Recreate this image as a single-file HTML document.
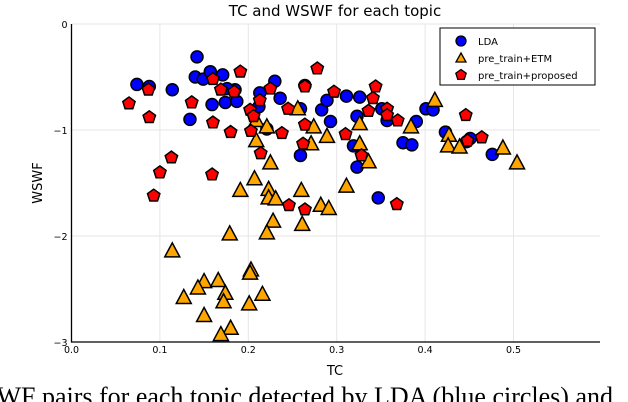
<!DOCTYPE html>
<html><head><meta charset="utf-8"><style>
body{margin:0;background:#fff;width:628px;height:402px;overflow:hidden}
svg{display:block;font-family:"DejaVu Sans","Liberation Sans",sans-serif}
</style></head><body>
<svg id="chart" width="628" height="402">
<text x="335" y="16" font-size="15" text-anchor="middle">TC and WSWF for each topic</text>
<text x="335" y="375" font-size="13" text-anchor="middle">TC</text>
<text transform="translate(42,183) rotate(-90)" font-size="13" text-anchor="middle">WSWF</text>
<text x="-18" y="405" font-size="26" font-family="Liberation Serif,serif">SWF pairs for each topic detected by LDA (blue circles) and</text>
<g id="grid"></g><g id="marks"></g><g id="axes"></g>
<g>
<rect x="440" y="28" width="155" height="57" fill="#fff" stroke="#000" stroke-width="1"/>
<circle cx="461" cy="41" r="5" fill="#0000ff" stroke="#000" stroke-width="1.3"/>
<text x="478" y="45" font-size="10">LDA</text>
<polygon points="461,53 466,62 456,62" fill="#ffa500" stroke="#000" stroke-width="1.3"/>
<text x="478" y="62" font-size="10">pre_train+ETM</text>
<polygon id="legpent" fill="#ff0000" stroke="#000" stroke-width="1.3"/>
<text x="478" y="79" font-size="10">pre_train+proposed</text>
</g>
</svg>
<script>
const xTicks=[0,0.1,0.2,0.3,0.4,0.5];
const xTickLabels=["0.0","0.1","0.2","0.3","0.4","0.5"];
const yTicks=[0,-1,-2,-3];
const yTickLabels=["0","\u22121","\u22122","\u22123"];
const ldaTC=[.074,.088,.114,.142,.140,.149,.157,.171,.159,.174,.187,.185,.176,.134,.230,.213,.212,.236,.264,.259,.283,.289,.293,.259,.221,.311,.326,.323,.351,.357,.390,.401,.409,.375,.385,.319,.323,.423,.451,.447,.476,.347];
const ldaWSWF=[-.57,-.59,-.62,-.31,-.50,-.52,-.45,-.48,-.76,-.74,-.73,-.62,-.61,-.90,-.54,-.65,-.78,-.70,-.58,-.80,-.81,-.72,-.92,-1.24,-.99,-.68,-.69,-.87,-.80,-.91,-.92,-.80,-.81,-1.12,-1.14,-1.15,-1.35,-1.02,-1.08,-1.11,-1.23,-1.64];
const etmTC=[.256,.209,.221,.274,.289,.209,.271,.225,.207,.411,.326,.326,.336,.384,.427,.426,.439,.488,.504,.311,.260,.282,.291,.191,.223,.223,.231,.228,.261,.221,.179,.114,.203,.202,.150,.166,.143,.174,.172,.127,.201,.216,.150,.180,.169];
const etmWSWF=[-.80,-.91,-.97,-.97,-1.06,-1.10,-1.13,-1.31,-1.46,-.72,-.94,-1.13,-1.30,-.97,-1.05,-1.15,-1.16,-1.17,-1.31,-1.53,-1.57,-1.71,-1.74,-1.57,-1.56,-1.64,-1.65,-1.86,-1.89,-1.97,-1.98,-2.14,-2.32,-2.35,-2.43,-2.42,-2.49,-2.54,-2.62,-2.58,-2.64,-2.55,-2.75,-2.87,-2.93];
const propTC=[.065,.087,.088,.136,.160,.191,.169,.184,.160,.180,.202,.206,.203,.213,.225,.214,.238,.245,.264,.278,.264,.262,.297,.113,.100,.159,.344,.341,.336,.357,.357,.369,.446,.464,.448,.310,.328,.368,.264,.246,.093];
const propWSWF=[-.75,-.62,-.88,-.74,-.52,-.45,-.62,-.64,-.93,-1.02,-.81,-.87,-1.01,-.72,-.61,-1.22,-1.03,-.80,-.59,-.42,-.95,-1.13,-.64,-1.26,-1.40,-1.42,-.59,-.70,-.82,-.80,-.86,-.91,-.86,-1.07,-1.10,-1.04,-1.24,-1.70,-1.75,-1.71,-1.62];

const L=71.5,R=600,T=24,B=342;
const sx=v=>L+v/0.1*88.4;
const sy=v=>T+(0-v)/3*(B-T);
const NS="http://www.w3.org/2000/svg";
function mk(tag,parent,attrs){const e=document.createElementNS(NS,tag);for(const k in attrs)e.setAttribute(k,attrs[k]);parent.appendChild(e);return e;}
const grid=document.getElementById('grid'),marks=document.getElementById('marks'),axes=document.getElementById('axes');
xTicks.forEach((t,i)=>{
 const g=mk('line',grid,{x1:sx(t),x2:sx(t),y1:T,y2:B,stroke:'#e6e6e6','stroke-width':1});
 
 
 const tx=mk('text',axes,{x:sx(t),y:B+11,'font-size':9.5,'text-anchor':'middle'});
 tx.textContent=xTickLabels[i];
 
 
});
yTicks.forEach((t,i)=>{
 const g=mk('line',grid,{x1:L,x2:R,y1:sy(t),y2:sy(t),stroke:'#e6e6e6','stroke-width':1});
 
 
 const tx=mk('text',axes,{x:L-4,y:sy(t)+4,'font-size':9.5,'text-anchor':'end'});
 tx.textContent=yTickLabels[i];
 
 
});
const ax=mk('path',axes,{d:`M${L},${T}V${B}H${R}`,fill:'none',stroke:'#000','stroke-width':1.3});


ldaTC.forEach((x,i)=>{
 const c=mk('circle',marks,{cx:sx(x),cy:sy(ldaWSWF[i]),r:6,fill:'#0000ff',stroke:'#000','stroke-width':1.5});
 
 
});
etmTC.forEach((x,i)=>{
 const cx=sx(x),cy=sy(etmWSWF[i]);
 const p=mk('polygon',marks,{points:`${cx},${cy-8} ${cx+7.5},${cy+6} ${cx-7.5},${cy+6}`,fill:'#ffa500',stroke:'#000','stroke-width':1.5});
 
 
});
function pent(cx,cy,r){let s=[];for(let k=0;k<5;k++){const a=-Math.PI/2+k*2*Math.PI/5;s.push((cx+r*Math.cos(a)).toFixed(1)+','+(cy+r*Math.sin(a)).toFixed(1));}return s.join(' ');}
propTC.forEach((x,i)=>{
 const p=mk('polygon',marks,{points:pent(sx(x),sy(propWSWF[i]),6.5),fill:'#ff0000',stroke:'#000','stroke-width':1.5});
 
 
});
document.getElementById('legpent').setAttribute('points',pent(461,75,5.5));
</script>
</body></html>
